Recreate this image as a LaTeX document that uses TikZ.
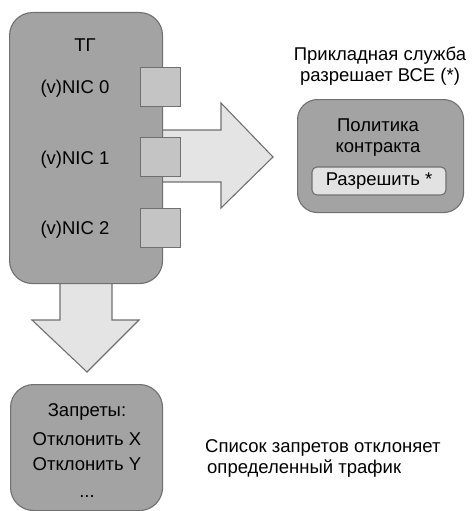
\documentclass[tikz,border=0pt]{standalone}
\usepackage{fontspec}
\setmainfont{Liberation Sans}
\definecolor{boxfill}{HTML}{A3A3A3}
\definecolor{boxline}{HTML}{707070}
\definecolor{portfill}{HTML}{C4C4C4}
\definecolor{arrowfill}{HTML}{E4E4E4}
\definecolor{innerfill}{HTML}{E2E2E2}
\begin{document}
\begin{tikzpicture}[x=1pt,y=-1pt,
  bigbox/.style={draw=boxline, fill=boxfill, line width=1.1pt, rounded corners=23pt},
  portbox/.style={draw=boxline, fill=portfill, line width=1.1pt},
  fatarrow/.style={draw=boxline, fill=arrowfill, line width=1.1pt},
  lbl/.style={font=\fontsize{18.5}{21}\selectfont, inner sep=0pt, align=center},
  ]
\useasboundingbox (0,0) rectangle (473,511);
% arrows first
\draw[fatarrow] (150,130) -- (221,130) -- (221,103) -- (273,157) -- (221,208) -- (221,182) -- (150,182) -- cycle;
\draw[fatarrow] (60,270) -- (60,320) -- (32,320) -- (87,372) -- (139,320) -- (112,320) -- (112,270) -- cycle;
% TG box
\node[bigbox, minimum width=153pt, minimum height=271pt, anchor=north west] (tg) at (9,12) {};
\node[lbl] (tgl) at (85,45) {ТГ};
\node[lbl] (n0) at (75,89) {(v)NIC 0};
\node[lbl] (n1) at (75,160) {(v)NIC 1};
\node[lbl] (n2) at (75,230) {(v)NIC 2};
% ports
\node[portbox, minimum width=40pt, minimum height=39pt, anchor=north west] (p0) at (140,67) {};
\node[portbox, minimum width=40pt, minimum height=39pt, anchor=north west] (p1) at (140,137) {};
\node[portbox, minimum width=40pt, minimum height=39pt, anchor=north west] (p2) at (140,208) {};
% policy box
\node[bigbox, rounded corners=20pt, minimum width=166pt, minimum height=113pt, anchor=north west] (pol) at (297,99) {};
\node[lbl] (polt) at (378,138) {Политика\\контракта};
\node[draw=boxline, fill=innerfill, line width=1.1pt, rounded corners=5pt, minimum width=134pt, minimum height=28pt, inner sep=0pt, font=\fontsize{18.5}{21}\selectfont] (allow) at (379,181) {Разрешить *};
\node[lbl] (svc) at (380,66) {Прикладная служба\\разрешает ВСЕ (*)};
% bottom box
\node[bigbox, minimum width=152pt, minimum height=126pt, anchor=north west] (deny) at (10,384) {};
\node[lbl] (d0) at (87,412) {Запреты:};
\node[lbl, font=\fontsize{18.5}{25}\selectfont] (d1) at (87,452) {Отклонить X\\Отклонить Y};
\node[lbl] (d2) at (87,497) {...};
\node[lbl, align=left, anchor=west] (note) at (205,458) {Список запретов отклоняет\\\hspace*{2pt}определенный трафик};
\end{tikzpicture}
\end{document}
